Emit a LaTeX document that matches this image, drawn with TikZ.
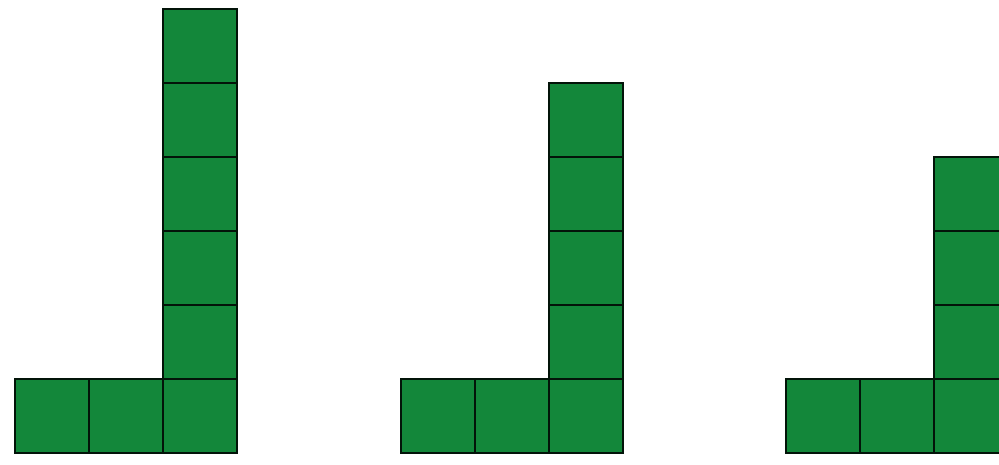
\documentclass[tikz,border=0pt]{standalone}
\definecolor{sqgreen}{RGB}{19,135,58}
\begin{document}
\begin{tikzpicture}[x=1pt,y=-1pt,
  sq/.style={fill=sqgreen,draw=black!85!sqgreen,line width=2pt}]
\useasboundingbox (0,0) rectangle (999,464);
\clip (0,0) rectangle (999,464);
\fill[white] (0,0) rectangle (999,464);
% Figure 1
\foreach \i in {0,1,2} \draw[sq] (15+\i*74,379) rectangle ++(74,74);
\foreach \j in {1,...,5} \draw[sq] (163,379-\j*74) rectangle ++(74,74);
% Figure 2
\foreach \i in {0,1,2} \draw[sq] (401+\i*74,379) rectangle ++(74,74);
\foreach \j in {1,...,4} \draw[sq] (549,379-\j*74) rectangle ++(74,74);
% Figure 3
\foreach \i in {0,1,2} \draw[sq] (786+\i*74,379) rectangle ++(74,74);
\foreach \j in {1,...,3} \draw[sq] (934,379-\j*74) rectangle ++(74,74);
\end{tikzpicture}
\end{document}
